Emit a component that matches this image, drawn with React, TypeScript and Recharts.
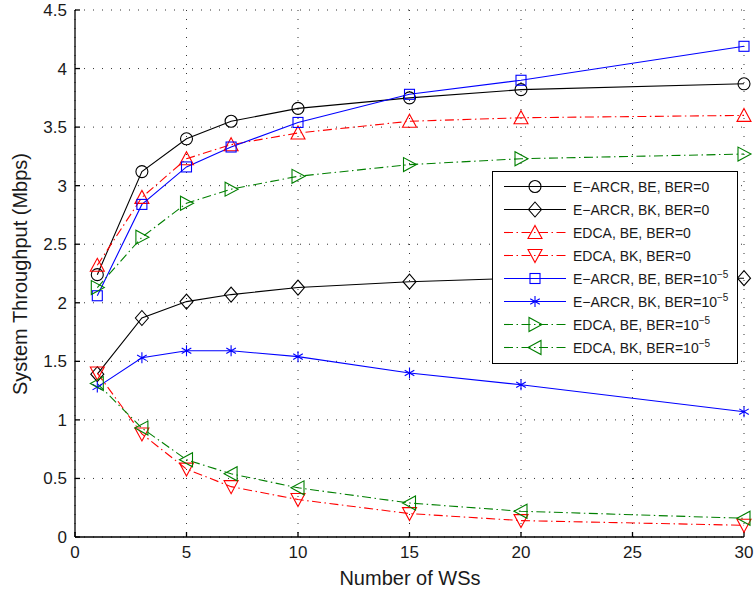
import { LineChart, Line, XAxis, YAxis, CartesianGrid, Legend, Label } from "recharts";

// number of WSs on the x axis
const wsCounts = [1, 3, 5, 7, 10, 15, 20, 30];

// throughput in Mbps, BER = 0
const arcrBeClean = [2.24, 3.12, 3.4, 3.55, 3.66, 3.75, 3.82, 3.87];
const arcrBkClean = [1.39, 1.87, 2.01, 2.07, 2.13, 2.18, 2.21, 2.21];
const edcaBeClean = [2.32, 2.9, 3.23, 3.35, 3.45, 3.55, 3.58, 3.6];
const edcaBkClean = [1.4, 0.88, 0.58, 0.43, 0.32, 0.2, 0.14, 0.1];

// throughput in Mbps, BER = 10^-5
const arcrBeNoisy = [2.06, 2.84, 3.16, 3.33, 3.54, 3.78, 3.9, 4.19];
const arcrBkNoisy = [1.28, 1.53, 1.59, 1.59, 1.54, 1.4, 1.3, 1.07];
const edcaBeNoisy = [2.13, 2.56, 2.85, 2.97, 3.08, 3.18, 3.23, 3.27];
const edcaBkNoisy = [1.31, 0.93, 0.66, 0.54, 0.42, 0.29, 0.22, 0.16];

const xTicks = [0, 5, 10, 15, 20, 25, 30];
const yTicks = [0, 0.5, 1, 1.5, 2, 2.5, 3, 3.5, 4, 4.5];

const FONT = "'Liberation Sans', Arial, Helvetica, sans-serif";
const TEXT = "#1a1a1a";
const DASH_DOT = "9 3.5 1.5 3.5";

type Shape = "circle" | "diamond" | "up" | "down" | "square" | "star" | "right" | "left";

interface Series {
  key: string;
  values: number[];
  label: string;
  sup?: string;
  color: string;
  dash?: string;
  shape: Shape;
}

const series: Series[] = [
  { key: "arcrBeClean", values: arcrBeClean, label: "E\u2212ARCR, BE, BER=0", color: "#000000", shape: "circle" },
  { key: "arcrBkClean", values: arcrBkClean, label: "E\u2212ARCR, BK, BER=0", color: "#000000", shape: "diamond" },
  { key: "edcaBeClean", values: edcaBeClean, label: "EDCA, BE, BER=0", color: "#ff0000", dash: DASH_DOT, shape: "up" },
  { key: "edcaBkClean", values: edcaBkClean, label: "EDCA, BK, BER=0", color: "#ff0000", dash: DASH_DOT, shape: "down" },
  { key: "arcrBeNoisy", values: arcrBeNoisy, label: "E\u2212ARCR, BE, BER=10", sup: "\u22125", color: "#0000ff", shape: "square" },
  { key: "arcrBkNoisy", values: arcrBkNoisy, label: "E\u2212ARCR, BK, BER=10", sup: "\u22125", color: "#0000ff", shape: "star" },
  { key: "edcaBeNoisy", values: edcaBeNoisy, label: "EDCA, BE, BER=10", sup: "\u22125", color: "#007f00", dash: DASH_DOT, shape: "right" },
  { key: "edcaBkNoisy", values: edcaBkNoisy, label: "EDCA, BK, BER=10", sup: "\u22125", color: "#007f00", dash: DASH_DOT, shape: "left" },
];

const rows = wsCounts.map((x, i) => {
  const row: Record<string, number> = { x };
  series.forEach((s) => {
    row[s.key] = s.values[i];
  });
  return row;
});

// hollow MATLAB-style markers
function Marker({ shape, cx, cy, color }: { shape: Shape; cx: number; cy: number; color: string }) {
  const p = { fill: "none", stroke: color, strokeWidth: 1.1 };
  switch (shape) {
    case "circle":
      return <circle cx={cx} cy={cy} r={6} {...p} />;
    case "diamond":
      return <path d={`M${cx},${cy - 7.5}L${cx + 6.5},${cy}L${cx},${cy + 7.5}L${cx - 6.5},${cy}Z`} {...p} />;
    case "square":
      return <rect x={cx - 5} y={cy - 5} width={10} height={10} {...p} />;
    case "up":
      return <path d={`M${cx},${cy - 7}L${cx + 7},${cy + 6}L${cx - 7},${cy + 6}Z`} {...p} />;
    case "down":
      return <path d={`M${cx},${cy + 7}L${cx + 7},${cy - 6}L${cx - 7},${cy - 6}Z`} {...p} />;
    case "right":
      return <path d={`M${cx + 7},${cy}L${cx - 6},${cy - 7}L${cx - 6},${cy + 7}Z`} {...p} />;
    case "left":
      return <path d={`M${cx - 7},${cy}L${cx + 6},${cy - 7}L${cx + 6},${cy + 7}Z`} {...p} />;
    case "star":
      return (
        <path
          d={`M${cx},${cy - 5.5}L${cx},${cy + 5.5}M${cx - 4.8},${cy - 2.8}L${cx + 4.8},${cy + 2.8}M${cx - 4.8},${cy + 2.8}L${cx + 4.8},${cy - 2.8}`}
          {...p}
        />
      );
  }
  return null;
}

const dotFor = (s: Series) => (props: any) => {
  const { cx, cy, index } = props;
  if (cx == null || cy == null) return <g key={`${s.key}-${index}`} />;
  return (
    <g key={`${s.key}-${index}`}>
      <Marker shape={s.shape} cx={cx} cy={cy} color={s.color} />
    </g>
  );
};

const renderLegend = () => (
  <div
    style={{
      width: 244,
      boxSizing: "content-box",
      border: "1px solid #000",
      background: "#fff",
      paddingTop: 3,
      paddingBottom: 4,
      fontFamily: FONT,
      fontSize: 14,
      color: TEXT,
    }}
  >
    {series.map((s) => (
      <div key={s.key} style={{ height: 23, display: "flex", alignItems: "center", whiteSpace: "nowrap" }}>
        <svg width={80} height={23} style={{ flex: "none" }}>
          <line x1={11} x2={73} y1={11.5} y2={11.5} stroke={s.color} strokeWidth={1.1} strokeDasharray={s.dash} />
          <Marker shape={s.shape} cx={42} cy={11.5} color={s.color} />
        </svg>
        <span>
          {s.label}
          {s.sup && <span style={{ fontSize: 10, position: "relative", top: -6 }}>{s.sup}</span>}
        </span>
      </div>
    ))}
  </div>
);

export default function App() {
  return (
    <div style={{ position: "absolute", left: 0, top: 0, width: 756, height: 595, background: "#fff" }}>
      <LineChart width={756} height={595} data={rows} margin={{ top: 10, right: 12, bottom: 0, left: 0 }}>
        <CartesianGrid stroke="#000" strokeWidth={1} strokeDasharray="1 8" strokeOpacity={0.8} />
        <XAxis
          dataKey="x"
          type="number"
          domain={[0, 30]}
          ticks={xTicks}
          height={58}
          tickSize={-5}
          tickMargin={14}
          stroke="#000"
          strokeWidth={1.3}
          tick={{ fontSize: 17, fill: TEXT, fontFamily: FONT }}
        >
          <Label
            content={() => (
              <text x={410} y={585} textAnchor="middle" fontSize={20} fill={TEXT} fontFamily={FONT}>
                Number of WSs
              </text>
            )}
          />
        </XAxis>
        <XAxis
          xAxisId="top"
          orientation="top"
          type="number"
          domain={[0, 30]}
          ticks={xTicks}
          height={0}
          tickSize={-5}
          tick={false}
          stroke="#000"
          strokeWidth={1.3}
        />
        <YAxis
          type="number"
          domain={[0, 4.5]}
          ticks={yTicks}
          width={75}
          tickSize={-5}
          tickMargin={13}
          stroke="#000"
          strokeWidth={1.3}
          tick={{ fontSize: 17, fill: TEXT, fontFamily: FONT }}
        >
          <Label
            content={() => (
              <text
                x={27}
                y={274}
                transform="rotate(-90 27 274)"
                textAnchor="middle"
                fontSize={20}
                fill={TEXT}
                fontFamily={FONT}
              >
                System Throughput (Mbps)
              </text>
            )}
          />
        </YAxis>
        <YAxis
          yAxisId="right"
          orientation="right"
          type="number"
          domain={[0, 4.5]}
          ticks={yTicks}
          width={0}
          tickSize={-5}
          tick={false}
          stroke="#000"
          strokeWidth={1.3}
        />
        {series.map((s) => (
          <Line
            key={s.key}
            type="linear"
            dataKey={s.key}
            name={s.label}
            stroke={s.color}
            strokeWidth={1.1}
            strokeDasharray={s.dash}
            dot={dotFor(s)}
            activeDot={false}
            isAnimationActive={false}
          />
        ))}
        <Legend
          layout="vertical"
          align="center"
          verticalAlign="middle"
          content={renderLegend}
          wrapperStyle={{ left: 492, top: 171, width: 246, height: 194 }}
        />
      </LineChart>
    </div>
  );
}
